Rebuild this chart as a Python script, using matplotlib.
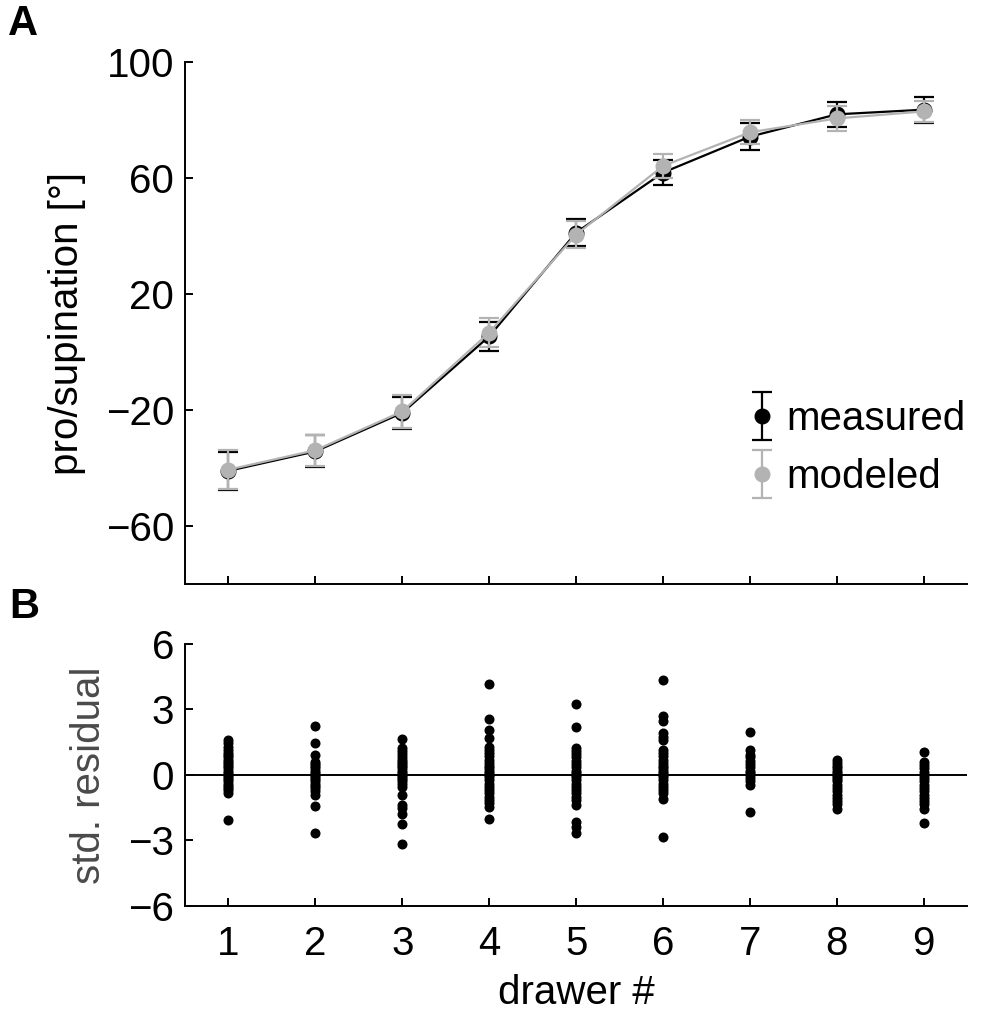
import numpy as np
import matplotlib
matplotlib.use("Agg")
import matplotlib.pyplot as plt
from matplotlib.container import ErrorbarContainer
from matplotlib.legend_handler import HandlerErrorbar

plt.rcParams['font.family'] = ['Liberation Sans', 'DejaVu Sans']

drawers = [1, 2, 3, 4, 5, 6, 7, 8, 9]
measured = [-41.0, -34.3, -21.0, 5.4, 41.2, 61.9, 74.3, 82.0, 83.6]
measured_err = [6.5, 5.5, 5.5, 5.1, 4.7, 4.2, 4.6, 4.3, 4.5]
modeled = [-40.6, -33.9, -20.5, 6.7, 40.5, 64.2, 75.8, 80.6, 83.0]
modeled_err = [6.7, 5.4, 5.8, 5.0, 4.6, 4.2, 4.2, 4.3, 3.6]

residuals = {
    1: [1.6, 1.45, 1.3, 1.15, 1.0, 0.9, 0.8, 0.7, 0.6, 0.5, 0.4, 0.3, 0.2, 0.1, 0.0,
        -0.1, -0.2, -0.3, -0.4, -0.5, -0.6, -0.7, -0.85, -2.08],
    2: [2.23, 1.46, 0.92, 0.6, 0.5, 0.4, 0.3, 0.2, 0.1, 0.0, -0.1, -0.2, -0.3, -0.4,
        -0.5, -0.6, -0.75, -0.92, -1.42, -2.65],
    3: [1.65, 1.23, 1.1, 0.95, 0.8, 0.7, 0.6, 0.5, 0.4, 0.3, 0.2, 0.1, 0.0, -0.1, -0.2,
        -0.3, -0.4, -0.54, -0.92, -1.38, -1.5, -1.77, -2.26, -3.18],
    4: [4.18, 2.57, 2.08, 1.69, 1.3, 1.15, 1.0, 0.85, 0.7, 0.55, 0.4, 0.3, 0.2, 0.1, 0.0,
        -0.1, -0.25, -0.4, -0.55, -0.7, -0.85, -1.0, -1.15, -1.3, -1.46, -2.0],
    5: [3.26, 2.18, 1.23, 1.1, 0.95, 0.8, 0.65, 0.5, 0.35, 0.2, 0.1, 0.0, -0.1, -0.25,
        -0.4, -0.55, -0.7, -0.85, -1.0, -1.15, -1.38, -2.15, -2.38, -2.65],
    6: [4.35, 2.69, 2.46, 1.92, 1.75, 1.6, 1.15, 1.0, 0.85, 0.7, 0.55, 0.4, 0.3, 0.2, 0.1,
        0.0, -0.1, -0.25, -0.4, -0.55, -0.7, -0.85, -1.12, -2.85],
    7: [1.97, 1.15, 0.92, 0.8, 0.65, 0.5, 0.35, 0.2, 0.1, 0.0, -0.15, -0.3, -0.46, -1.69],
    8: [0.69, 0.55, 0.4, 0.3, 0.2, 0.1, 0.0, -0.1, -0.2, -0.3, -0.45, -0.6, -0.75, -0.9,
        -1.05, -1.2, -1.35, -1.54],
    9: [1.05, 0.6, 0.45, 0.3, 0.15, 0.0, -0.15, -0.3, -0.45, -0.6, -0.75, -0.9, -1.05,
        -1.2, -1.35, -1.54, -2.18],
}

yticks_a = [-60, -20, 20, 60, 100]
yticks_b = [-6, -3, 0, 3, 6]

BLACK = '#000000'
GRAY = '#b3b3b3'
FS = 29

fig = plt.figure(figsize=(9.92, 10.19), dpi=100)
axA = fig.add_axes([0.1865, 0.427, 0.7885, 0.512])
axB = fig.add_axes([0.1865, 0.111, 0.7885, 0.257])

for ax in (axA, axB):
    ax.spines['top'].set_visible(False)
    ax.spines['right'].set_visible(False)
    for s in ('left', 'bottom'):
        ax.spines[s].set_linewidth(1.4)
    ax.tick_params(direction='in', length=6, width=1.4, labelsize=FS, pad=8)
    ax.tick_params(axis='x', pad=14)
    ax.set_xlim(0.5, 9.5)
    ax.set_xticks(drawers)

# Panel A
axA.errorbar(drawers, measured, yerr=measured_err, fmt='-o', color=BLACK,
             ms=10.5, lw=1.6, elinewidth=1.6, capsize=7, capthick=1.6, zorder=2)
axA.errorbar(drawers, modeled, yerr=modeled_err, fmt='-o', color=GRAY,
             ms=10.5, lw=1.6, elinewidth=1.6, capsize=7, capthick=1.6, zorder=3)
axA.set_ylim(-80, 100)
axA.set_yticks(yticks_a)
axA.set_xticklabels([])
axA.set_ylabel('pro/supination [°]', fontsize=FS, labelpad=14)

h1 = axA.errorbar([np.nan], [np.nan], yerr=[1], fmt='o', color=BLACK, ms=10.5,
                  elinewidth=1.6, capsize=7, capthick=1.6)
h2 = axA.errorbar([np.nan], [np.nan], yerr=[1], fmt='o', color=GRAY, ms=10.5,
                  elinewidth=1.6, capsize=7, capthick=1.6)
leg = axA.legend([h1, h2], ['measured', 'modeled'], loc='upper left',
                 bbox_to_anchor=(0.717, 0.352), frameon=False, fontsize=FS,
                 handlelength=0.8, handletextpad=0.2, labelspacing=0.5,
                 borderpad=0, borderaxespad=0,
                 handler_map={ErrorbarContainer: HandlerErrorbar(xerr_size=0.3, yerr_size=0.6)})

# Panel B
axB.axhline(0, color=BLACK, lw=1.4, zorder=1)
for d in drawers:
    vals = residuals[d]
    axB.plot([d] * len(vals), vals, 'o', color=BLACK, ms=6.2, zorder=2)
axB.set_ylim(-6, 6)
axB.set_yticks(yticks_b)
axB.set_ylabel('std. residual', fontsize=FS, color='#4a4a4a', labelpad=14)
axB.set_xlabel('drawer #', fontsize=FS, labelpad=8)

fig.text(0.008, 0.996, 'A', fontsize=30, fontweight='bold', va='top', ha='left')
fig.text(0.009, 0.424, 'B', fontsize=30, fontweight='bold', va='top', ha='left')

fig.savefig('out.png', dpi=100)
